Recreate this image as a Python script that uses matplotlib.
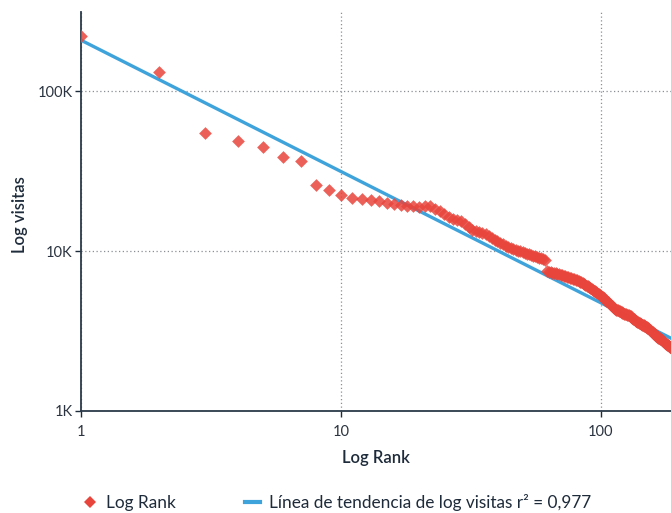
import matplotlib
matplotlib.use("Agg")
import matplotlib.pyplot as plt
import numpy as np
from matplotlib.lines import Line2D

plt.rcParams['font.family'] = ['Lato', 'DejaVu Sans']

# Visits per rank
visits = [
    221000, 131000, 55000, 49000, 45000, 38700, 36500, 25800, 24000, 22400,
    21500, 21100, 20800, 20500, 20000, 19600, 19300, 19100, 19000, 18900,
    19000, 19000, 18400, 17800, 17000, 16300, 15800, 15600, 15400, 14800,
    14200, 13600, 13400, 13100, 12900, 12700, 12500, 12100, 11800, 11500,
    11200, 11000, 10800, 10600, 10400, 10300, 10150, 10050, 9950, 9850,
    9750, 9650, 9550, 9450, 9350, 9250, 9200, 9100, 9000, 8900,
    8800, 7500, 7400, 7350, 7300, 7280, 7250, 7200, 7150, 7100,
    7080, 7020, 6970, 6920, 6870, 6820, 6770, 6720, 6670, 6620,
    6580, 6500, 6430, 6360, 6290, 6220, 6150, 6080, 6010, 5940,
    5880, 5800, 5730, 5660, 5590, 5520, 5450, 5380, 5310, 5240,
    5180, 5130, 5050, 4970, 4890, 4820, 4740, 4670, 4600, 4530,
    4460, 4400, 4350, 4310, 4280, 4250, 4220, 4190, 4160, 4130,
    4100, 4080, 4060, 4040, 4020, 4000, 3980, 3960, 3940, 3900,
    3860, 3820, 3780, 3740, 3700, 3670, 3640, 3610, 3580, 3550,
    3530, 3510, 3490, 3470, 3450, 3430, 3410, 3390, 3370, 3350,
    3320, 3290, 3260, 3230, 3200, 3170, 3140, 3110, 3080, 3050,
    3020, 2990, 2960, 2930, 2900, 2880, 2860, 2840, 2820, 2800,
    2780, 2760, 2740, 2720, 2700, 2680, 2660, 2640, 2620, 2600,
    2580, 2560, 2540, 2520, 2500, 2480,
]
ranks = list(range(1, len(visits) + 1))

# Power-law trend line: visits = trend_a * rank ** trend_b
trend_a = 208000
trend_b = -0.821

x_ticks = [1, 10, 100]
x_tick_labels = ["1", "10", "100"]
y_ticks = [1000, 10000, 100000]
y_tick_labels = ["1K", "10K", "100K"]

red = "#e8453c"
blue = "#3fa3db"
navy = "#1e2b3a"

W, H = 671, 513
fig = plt.figure(figsize=(W / 100, H / 100), dpi=100)
ax = fig.add_axes([81 / W, 1 - 411 / H, 590 / W, 399 / H])

xs = np.logspace(0, np.log10(200), 200)
ax.plot(xs, trend_a * xs ** trend_b, color=blue, lw=2.4, zorder=3, solid_capstyle='butt')
ax.scatter(ranks, visits, marker='D', s=42, color=red, alpha=0.85, linewidths=0, zorder=4, clip_on=True)

ax.set_xscale('log')
ax.set_yscale('log')
ax.set_xlim(1, 186)
ax.set_ylim(1000, 312000)

ax.set_xticks(x_ticks)
ax.set_xticklabels(x_tick_labels)
ax.set_yticks(y_ticks)
ax.set_yticklabels(y_tick_labels)
ax.minorticks_off()
ax.tick_params(axis='both', colors=navy, labelsize=10.5, length=4, width=1, labelcolor="#2b3440")
ax.tick_params(axis='x', pad=6)
ax.tick_params(axis='y', pad=2)

for s in ['top', 'right']:
    ax.spines[s].set_visible(False)
for s in ['left', 'bottom']:
    ax.spines[s].set_color("#2b3a4a")
    ax.spines[s].set_linewidth(1.3)

ax.grid(True, which='major', linestyle=(0, (1, 2)), color="#8a8f96", linewidth=0.9)
ax.set_axisbelow(True)

ax.set_xlabel("Log Rank", fontsize=12, color=navy, fontweight='semibold', labelpad=8)
fig.text(20 / W, 1 - 215 / H, "Log visitas", rotation=90, fontsize=12, color=navy,
         fontweight='semibold', ha='center', va='center')

handles = [
    Line2D([0], [0], marker='D', color='none', markerfacecolor=red, markeredgewidth=0, markersize=6.5),
    Line2D([0], [0], color=blue, lw=3),
]
labels = ["Log Rank", "Línea de tendencia de log visitas r² = 0,977"]
fig.legend(handles, labels, loc='lower left', bbox_to_anchor=(0.099, -0.027), ncol=2,
           frameon=False, fontsize=12.4, handlelength=0.9, handletextpad=0.5, columnspacing=4.0,
           labelcolor=navy)

fig.savefig("out.png", dpi=100)
